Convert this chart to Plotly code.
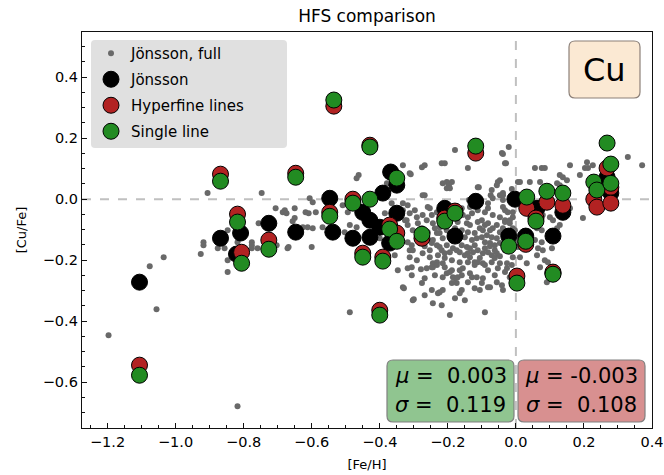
import plotly.graph_objects as go

# ---------------- data ----------------
full_feh = [-1.197, -1.056, -0.818, -1.035, -1.076, -0.906, -0.747, -0.706, -0.926, -0.918,
            -0.918, -0.876, -0.856, -0.847, -0.847, -0.847, -0.818, -0.776, -0.776, -0.759,
            -0.756, -0.685, -0.674, -0.776, -0.703, -0.671,
            -0.462, -0.468, -0.606, -0.597, -0.650, -0.618, -0.588, -0.650, -0.656, -0.612,
            -0.597, -0.568, -0.509, -0.494, -0.503, -0.488, -0.468, -0.379, -0.385, -0.365,
            -0.668, -0.600, -0.400, -0.679, -0.609, -0.626, -0.488,
            -0.332, -0.276, -0.268, -0.218, -0.209, -0.179, -0.141, -0.041, -0.021, -0.029,
            -0.312, -0.268, -0.215, -0.203, -0.188, -0.109, -0.071, -0.053, -0.047, -0.038,
            0.006, -0.138, -0.332, -0.312, -0.291, -0.262, -0.253, -0.232, -0.326, -0.318,
            -0.303, -0.291, -0.262, -0.247, -0.232, -0.224, -0.312, -0.312, -0.291, -0.274,
            -0.253, -0.232, -0.262, -0.244, -0.215, -0.332, -0.276, -0.229, -0.215, -0.244,
            -0.303, -0.218, -0.194, -0.091, -0.174, -0.159, -0.135, -0.115, -0.100, -0.076,
            -0.041, -0.018, -0.135, -0.121, -0.097, -0.188, -0.185, -0.215,
            -0.303, -0.306, -0.318, -0.279, -0.306, -0.329, -0.268, -0.244, -0.232, -0.247,
            -0.238, -0.209, -0.203, -0.194, -0.179, -0.171, -0.159, -0.165, -0.156, -0.129,
            -0.121, -0.106, -0.097, -0.082, -0.071, -0.141, -0.126, -0.185, -0.174, -0.194,
            -0.218, -0.209, -0.056, -0.062, -0.053, -0.047, -0.097, -0.082, -0.106, -0.121,
            -0.038, -0.165, -0.188, -0.224, -0.247, -0.300, -0.009,
            -0.309, -0.203, -0.197, -0.194, -0.112, -0.056, -0.047, -0.074, -0.068, -0.038,
            -0.332, -0.318, -0.297, -0.259, -0.247, -0.274, -0.321, -0.244, -0.238, -0.156,
            -0.141, -0.129, -0.144, -0.135, -0.112, -0.100, -0.091, -0.082, -0.106, -0.097,
            -0.076, -0.068, -0.121, -0.115, -0.100, -0.085, -0.071, -0.056, -0.129, -0.121,
            -0.091, -0.076, -0.062, -0.047, -0.082, -0.082, -0.047, -0.032, -0.018, -0.038,
            -0.009, -0.026, -0.009, -0.141, -0.150, -0.224, -0.215, -0.144, -0.159, -0.244,
            -0.232, -0.318, -0.306,
            -0.032, 0.056, 0.076, 0.085, 0.159, 0.209, 0.226, 0.203, 0.188, 0.129,
            0.138, 0.150, 0.329, 0.371, 0.012, 0.041, 0.071, 0.121, 0.129, -0.012,
            -0.038, -0.032, -0.024, -0.009, -0.018, -0.032, -0.038, 0.079, 0.100, 0.109,
            0.065, 0.129, 0.121, 0.150, 0.159, 0.197, 0.076, 0.062, 0.056, 0.076,
            0.012, 0.006, -0.003, 0.065, 0.079, 0.006, -0.009, 0.062, 0.106, 0.085,
            0.094, 0.071, -0.026, -0.026, 0.032, 0.091, 0.012, -0.038, 0.212,
            -0.224, -0.203, -0.165, -0.150, -0.135, -0.112, -0.091, -0.076, -0.062, -0.047,
            -0.032, -0.112, -0.091, -0.071, -0.082, -0.062, -0.141, -0.165, -0.188, -0.209,
            -0.229, -0.253, -0.268, -0.282, -0.259, -0.276, -0.288, -0.274, -0.179, -0.171,
            -0.159, -0.194, -0.203, -0.047, -0.056, -0.068, -0.091, -0.112, -0.135, -0.159,
            -0.032, -0.018, -0.012, -0.032, -0.056, -0.141, -0.150, -0.179, -0.268, -0.356,
            -0.347]
full_cufe = [-0.446, -0.361, -0.679, -0.190, -0.220, 0.020, 0.020, -0.030, -0.180, -0.141,
             -0.151, -0.161, -0.161, -0.102, -0.200, -0.239, -0.141, -0.141, -0.161, -0.161,
             -0.079, -0.043, -0.046, -0.151, -0.151, -0.161,
             0.079, 0.069, 0.003, -0.010, -0.030, -0.043, -0.043, -0.062, -0.072, -0.092,
             -0.095, -0.092, -0.020, -0.043, -0.108, -0.085, -0.092, 0.052, -0.046, -0.013,
             -0.157, -0.157, -0.128, -0.036, -0.046, -0.092, -0.371,
             0.111, 0.105, 0.111, 0.118, 0.118, 0.161, 0.102, 0.151, 0.171, 0.118,
             0.085, 0.013, 0.052, 0.036, 0.056, 0.039, 0.030, 0.056, 0.013, -0.003,
             0.056, -0.003, -0.036, -0.046, -0.059, -0.069, -0.030, -0.043, -0.069, -0.085,
             -0.102, -0.128, -0.134, -0.144, -0.111, -0.092, -0.167, -0.190, -0.200, -0.177,
             -0.190, -0.207, -0.226, -0.223, -0.210, -0.289, -0.275, -0.308, -0.298, -0.341,
             -0.331, -0.348, -0.380, -0.371, -0.275, -0.298, -0.243, -0.256, -0.275, -0.289,
             -0.282, -0.256, -0.190, -0.207, -0.210, -0.233, -0.256, -0.256,
             -0.167, -0.223, -0.226, -0.230, -0.249, -0.292, -0.259, -0.210, -0.216, -0.223,
             -0.249, -0.223, -0.243, -0.239, -0.259, -0.256, -0.249, -0.233, -0.226, -0.256,
             -0.216, -0.193, -0.177, -0.174, -0.184, -0.177, -0.174, -0.161, -0.167, -0.174,
             -0.167, -0.177, -0.177, -0.193, -0.226, -0.210, -0.259, -0.289, -0.298, -0.292,
             -0.298, -0.308, -0.275, -0.305, -0.298, -0.328, -0.161,
             0.082, 0.056, 0.046, 0.036, 0.039, 0.046, 0.062, 0.013, 0.003, 0.013,
             -0.013, -0.020, -0.036, -0.026, -0.052, 0.013, -0.069, -0.079, -0.095, -0.052,
             -0.059, -0.046, -0.079, -0.085, -0.075, -0.069, -0.085, -0.079, -0.095, -0.102,
             -0.102, -0.095, -0.111, -0.128, -0.125, -0.118, -0.125, -0.128, -0.134, -0.151,
             -0.141, -0.144, -0.151, -0.144, -0.013, -0.030, -0.059, -0.069, -0.079, -0.026,
             -0.043, -0.108, -0.095, -0.108, -0.125, -0.111, -0.128, -0.157, -0.151, -0.134,
             -0.151, -0.141, -0.151,
             0.118, 0.102, 0.102, 0.102, 0.111, 0.121, 0.111, 0.102, 0.079, 0.079,
             0.072, 0.062, 0.138, 0.111, 0.056, 0.056, 0.056, 0.052, 0.046, 0.033,
             0.020, -0.036, -0.043, -0.059, -0.069, -0.075, -0.095, -0.052, -0.059, -0.069,
             -0.069, -0.085, -0.095, -0.043, -0.030, -0.062, -0.102, -0.095, -0.134, -0.141,
             -0.118, -0.134, -0.102, -0.161, -0.167, -0.157, -0.190, -0.184, -0.161, -0.200,
             -0.207, -0.223, -0.210, -0.226, -0.210, -0.272, -0.190, 0.148, 0.102,
             -0.157, -0.151, -0.174, -0.184, -0.161, -0.167, -0.161, -0.154, -0.167, -0.187,
             -0.167, -0.207, -0.216, -0.207, -0.233, -0.249, -0.207, -0.207, -0.200, -0.193,
             -0.184, -0.167, -0.154, -0.144, -0.108, -0.095, -0.079, -0.052, -0.095, -0.075,
             -0.102, -0.125, -0.102, -0.108, -0.085, -0.052, -0.043, -0.036, -0.026, -0.030,
             -0.134, -0.151, -0.216, -0.239, -0.272, -0.272, -0.331, -0.325, -0.315, -0.184,
             -0.233]

jons_feh = [-1.106, -0.868, -0.809, -0.821, -0.726, -0.647, -0.547, -0.538, -0.479, -0.450,
            -0.429, -0.429, -0.391, -0.368, -0.350, -0.350, -0.400, -0.371, -0.209, -0.179,
            -0.118, -0.003, -0.021, 0.062, 0.029, 0.109, 0.109, 0.138, 0.268, 0.279]
jons_cufe = [-0.272, -0.128, -0.111, -0.180, -0.079, -0.108, 0.003, -0.108, -0.128, -0.043,
             -0.069, -0.125, 0.020, 0.089, 0.046, -0.046, -0.092, -0.144, -0.030, -0.121,
             -0.007, 0.000, -0.121, -0.030, -0.121, -0.121, -0.243, -0.043, 0.072, 0.020]

hfs_feh = [-1.106, -0.868, -0.818, -0.806, -0.726, -0.647, -0.547, -0.535, -0.479, -0.450,
           -0.429, -0.371, -0.350, -0.391, -0.400, -0.276, -0.209, -0.179, -0.118, 0.003,
           0.032, 0.059, 0.029, 0.091, 0.138, 0.229, 0.238, 0.268, 0.279, 0.279, 0.109]
hfs_cufe = [-0.544, 0.082, -0.049, -0.174, -0.134, 0.085, -0.043, 0.305, 0.000, -0.177,
            0.177, -0.085, -0.111, -0.190, -0.364, -0.128, -0.062, -0.039, 0.151, -0.252,
            -0.030, -0.062, -0.148, -0.010, -0.020, 0.000, -0.026, 0.102, 0.039, -0.013, -0.239]

single_feh = [-1.106, -0.868, -0.818, -0.806, -0.726, -0.647, -0.547, -0.535, -0.479, -0.450,
              -0.429, -0.429, -0.371, -0.350, -0.391, -0.400, -0.276, -0.209, -0.179, -0.118,
              0.003, 0.032, 0.059, -0.021, 0.029, 0.109, 0.091, 0.138, 0.229, 0.238,
              0.268, 0.279, 0.279, -0.350]
single_cufe = [-0.577, 0.059, -0.075, -0.210, -0.164, 0.072, -0.056, 0.325, -0.013, -0.190,
               0.171, 0.000, -0.098, -0.138, -0.203, -0.380, -0.115, -0.072, -0.046, 0.174,
               -0.275, 0.007, -0.072, -0.154, -0.138, -0.246, 0.026, 0.020, 0.056, 0.030,
               0.184, 0.115, 0.052, 0.069]

stats_single = ("0.003", "0.119")
stats_hfs = ("-0.003", "0.108")

x_ticks = [-1.2, -1.0, -0.8, -0.6, -0.4, -0.2, 0.0, 0.2, 0.4]
y_ticks = [-0.6, -0.4, -0.2, 0.0, 0.2, 0.4]

# ---------------- layout geometry ----------------
W, H = 664, 475
ML, MR, MT, MB = 82, 12, 32, 47
PW, PH = W - ML - MR, H - MT - MB
FONT = "DejaVu Sans"


def px2paper(px, py):
    return (px - ML) / PW, (H - MB - py) / PH


def rrect(x0, y0, x1, y1, r=5):
    # rounded rectangle given in pixel coords, returned as a paper-coord path
    def P(px, py):
        a, b = px2paper(px, py)
        return f"{a:.5f},{b:.5f}"
    return (f"M {P(x0 + r, y0)} L {P(x1 - r, y0)} Q {P(x1, y0)} {P(x1, y0 + r)} "
            f"L {P(x1, y1 - r)} Q {P(x1, y1)} {P(x1 - r, y1)} "
            f"L {P(x0 + r, y1)} Q {P(x0, y1)} {P(x0, y1 - r)} "
            f"L {P(x0, y0 + r)} Q {P(x0, y0)} {P(x0 + r, y0)} Z")


fig = go.Figure()
fig.add_trace(go.Scatter(x=full_feh, y=full_cufe, mode="markers", name="Jönsson, full",
                         legendgroup="a",
                         marker=dict(size=6, color="dimgray", line=dict(width=0))))
fig.add_trace(go.Scatter(x=jons_feh, y=jons_cufe, mode="markers", name="Jönsson",
                         legendgroup="b",
                         marker=dict(size=16, color="black", line=dict(width=1, color="black"))))
fig.add_trace(go.Scatter(x=hfs_feh, y=hfs_cufe, mode="markers", name="Hyperfine lines",
                         legendgroup="c",
                         marker=dict(size=16, color="#b22222", line=dict(width=1, color="black"))))
fig.add_trace(go.Scatter(x=single_feh, y=single_cufe, mode="markers", name="Single line",
                         legendgroup="d",
                         marker=dict(size=16, color="#228b22", line=dict(width=1, color="black"))))

shapes = [
    dict(type="line", xref="x", yref="paper", x0=0, x1=0, y0=0, y1=1,
         line=dict(color="#c0c0c0", width=2, dash="dash"), layer="below"),
    dict(type="line", xref="paper", yref="y", x0=0, x1=1, y0=0, y1=0,
         line=dict(color="#c0c0c0", width=2, dash="dash"), layer="below"),
    # legend frame
    dict(type="path", xref="paper", yref="paper", path=rrect(91, 40, 287, 148, 4),
         fillcolor="#e0e0e0", line=dict(width=0), layer="above"),
    # element box
    dict(type="path", xref="paper", yref="paper", path=rrect(569, 41, 640, 98, 6),
         fillcolor="#fbe9d3", line=dict(color="#8c8079", width=1.2), layer="above"),
    # stats boxes
    dict(type="path", xref="paper", yref="paper", path=rrect(387, 360, 514, 422, 6),
         fillcolor="#90c590", line=dict(color="#808080", width=1.2), layer="above"),
    dict(type="path", xref="paper", yref="paper", path=rrect(518, 360, 645, 422, 6),
         fillcolor="#d89090", line=dict(color="#808080", width=1.2), layer="above"),
]

ax, ay = px2paper(604.5, 70)
annotations = [
    dict(xref="paper", yref="paper", x=ax, y=ay, text="Cu", showarrow=False,
         font=dict(family=FONT, size=32, color="black"), xanchor="center", yanchor="middle"),
]


def stat_text(sym, val):
    pad = "&nbsp;" * (1 + 6 - len(val))
    return f"<i>{sym}</i> ={pad}{val}"


for (mu, sg), cx in ((stats_single, 450.5), (stats_hfs, 581.5)):
    px, py = px2paper(cx, 376)
    annotations.append(dict(xref="paper", yref="paper", x=px, y=py, showarrow=False,
                            text=stat_text("μ", mu),
                            font=dict(family=FONT, size=21, color="black"),
                            xanchor="center", yanchor="middle"))
    px, py = px2paper(cx, 405)
    annotations.append(dict(xref="paper", yref="paper", x=px, y=py, showarrow=False,
                            text=stat_text("σ", sg),
                            font=dict(family=FONT, size=21, color="black"),
                            xanchor="center", yanchor="middle"))

lx, ly = px2paper(91, 37)
axis_common = dict(showgrid=False, zeroline=False, showline=True, linecolor="#111", linewidth=1.3,
                   mirror=True, ticks="inside", ticklen=5, tickcolor="#111", tickwidth=1.2,
                   tickfont=dict(family=FONT, size=14.5), automargin=False)
fig.update_layout(
    width=W, height=H,
    margin=dict(l=ML, r=MR, t=MT, b=MB, pad=0, autoexpand=False),
    paper_bgcolor="white", plot_bgcolor="white",
    font=dict(family=FONT, size=14, color="black"),
    title=dict(text="HFS comparison", x=(ML + PW / 2) / W, xanchor="center",
               y=1 - 16 / H, yanchor="middle", font=dict(family=FONT, size=17)),
    showlegend=True,
    legend=dict(x=lx, y=ly, xanchor="left", yanchor="top", bgcolor="rgba(0,0,0,0)",
                font=dict(family=FONT, size=15), itemsizing="trace", tracegroupgap=3.5),
    shapes=shapes, annotations=annotations,
    xaxis=dict(range=[-1.275, 0.4], tickvals=x_ticks,
               ticktext=[f"{v:.1f}".replace("-", "−") for v in x_ticks],
               minor=dict(dtick=0.05, tick0=0, ticks="inside", ticklen=3, tickcolor="#111", tickwidth=1),
               title=dict(text="[Fe/H]", font=dict(family=FONT, size=13), standoff=11),
               **axis_common),
    yaxis=dict(range=[-0.75, 0.548], tickvals=y_ticks,
               ticktext=[f"{v:.1f}".replace("-", "−") for v in y_ticks],
               minor=dict(dtick=0.05, tick0=0, ticks="inside", ticklen=3, tickcolor="#111", tickwidth=1),
               title=dict(text="[Cu/Fe]", font=dict(family=FONT, size=13), standoff=13),
               **axis_common),
)

fig.write_html("out.html")
